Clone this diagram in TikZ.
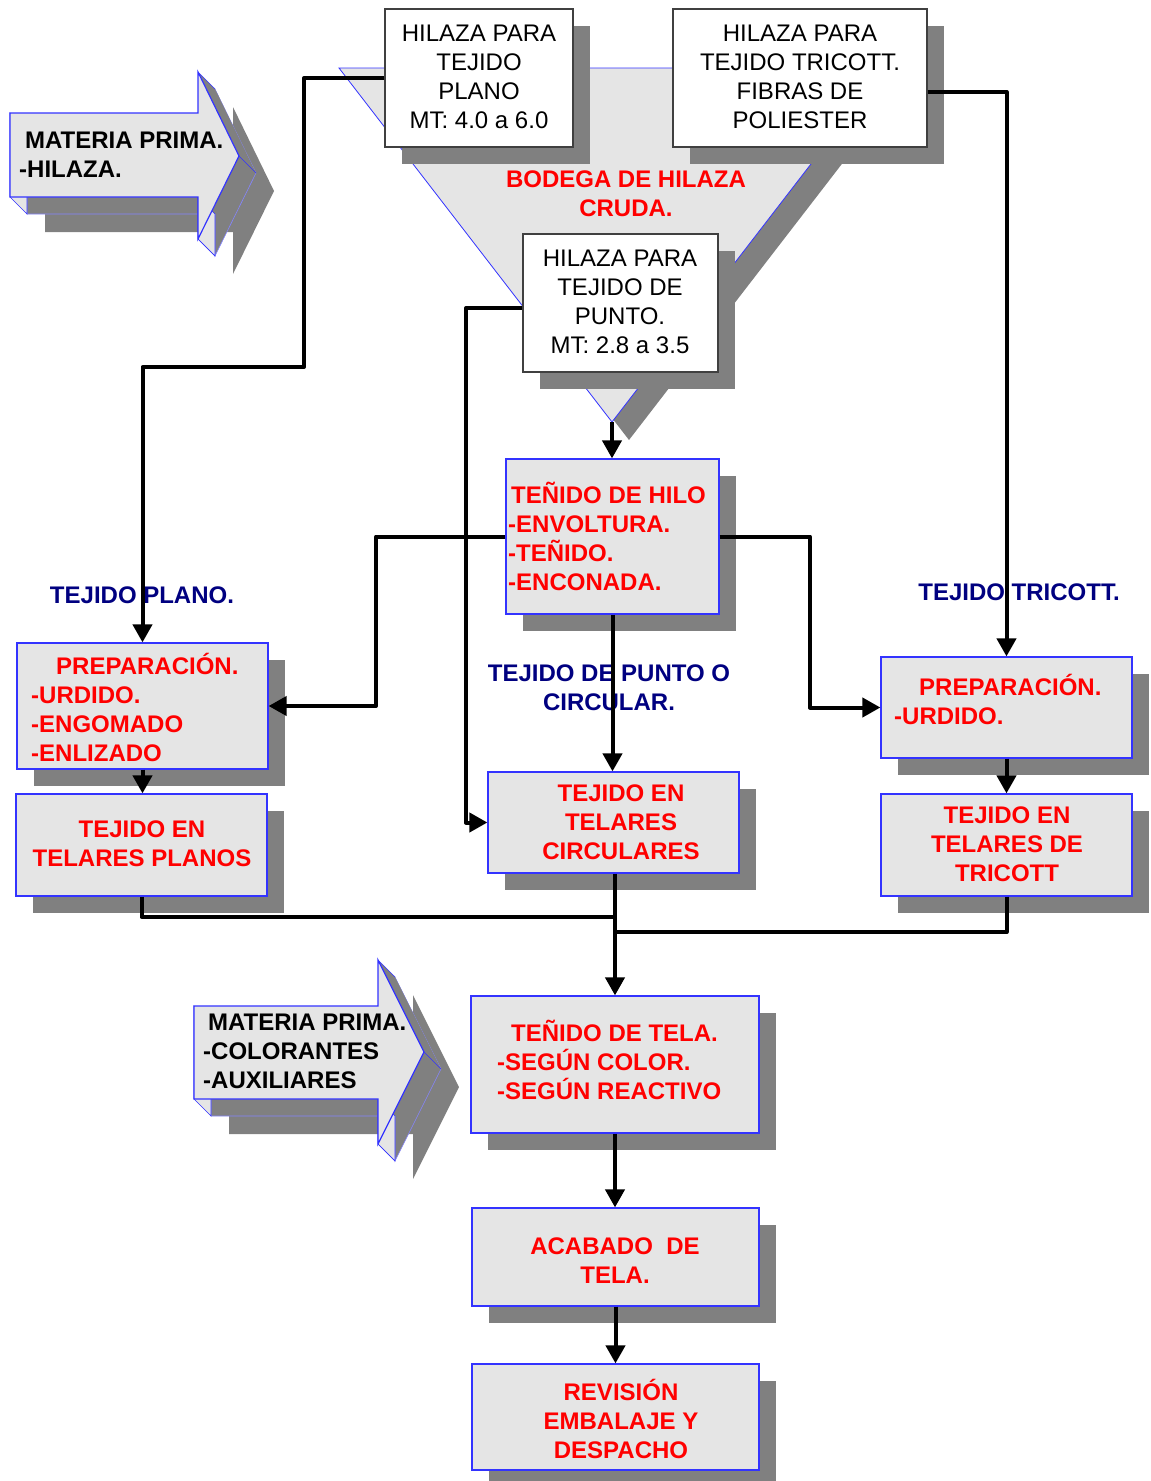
\documentclass[tikz,border=0pt]{standalone}
\usepackage{fontspec}
\setmainfont{Liberation Sans}
\usetikzlibrary{arrows.meta,shadows}

\definecolor{fillgray}{RGB}{229,229,229}
\definecolor{shadegray}{RGB}{128,128,128}
\definecolor{edgeblue}{RGB}{51,51,255}
\definecolor{labelnavy}{RGB}{0,0,128}
\definecolor{redtext}{RGB}{255,0,0}

\newcommand{\bigtxt}{\fontsize{24}{29}\selectfont}
\newcommand{\topstrut}{\rule{0pt}{24pt}}

% 3D block arrow: #1 left x, #2 body top, #3 body bottom, #4 neck x,
% #5 head top, #6 tip x, #7 tip y, #8 head bottom
\newcommand{\blockarrow}[8]{%
  \fill[shadegray, shift={(35,35)}] (#1,#2) -- (#4,#2) -- (#4,#5) -- (#6,#7) -- (#4,#8) -- (#4,#3) -- (#1,#3) -- cycle;
  \filldraw[fill=shadegray, draw=edgeblue!60, line width=0.6pt, shift={(17,17)}] (#1,#2) -- (#4,#2) -- (#4,#5) -- (#6,#7) -- (#4,#8) -- (#4,#3) -- (#1,#3) -- cycle;
  \fill[shadegray] (#4,#5) -- (#6,#7) -- (#6+17,#7+17) -- (#4+17,#5+17) -- cycle;
  \filldraw[fill=fillgray, draw=edgeblue, line width=0.6pt] (#1,#2) -- (#1+17,#2+17) -- (#1+17,#3+17) -- (#1,#3) -- cycle;
  \filldraw[fill=fillgray, draw=edgeblue, line width=0.6pt] (#4,#3) -- (#4+17,#3+17) -- (#4+17,#8+17) -- (#4,#8) -- cycle;
  \draw[edgeblue, line width=0.6pt] (#4,#5) -- (#4+17,#5+17) (#6,#7) -- (#6+17,#7+17) (#4,#8) -- (#4+17,#8+17);
  \filldraw[fill=fillgray, draw=edgeblue, line width=1.2pt, line join=miter] (#1,#2) -- (#4,#2) -- (#4,#5) -- (#6,#7) -- (#4,#8) -- (#4,#3) -- (#1,#3) -- cycle;
}

\tikzset{
  boxshadow/.style={drop shadow={shadow xshift=17pt, shadow yshift=-17pt, fill=shadegray, opacity=1, draw=none}},
  procbox/.style={draw=edgeblue, line width=1.2pt, fill=fillgray, inner sep=0pt, boxshadow},
  stockbox/.style={draw=black!75, line width=1.2pt, fill=white, inner sep=0pt, boxshadow},
  plaintxt/.style={inner sep=0pt, anchor=north, align=center, font=\bigtxt, text=black},
  redtxt/.style={inner sep=0pt, anchor=north, align=center, font=\bigtxt\bfseries, text=redtext},
  navytxt/.style={inner sep=0pt, anchor=north, align=center, font=\bigtxt\bfseries, text=labelnavy},
  inktxt/.style={inner sep=0pt, anchor=north west, align=left, font=\bigtxt\bfseries, text=black},
  conn/.style={line width=4pt, draw=black, line join=round},
  flow/.style={conn, -{Triangle[length=18pt,width=19pt]}},
}

\begin{document}
\begin{tikzpicture}[x=1pt,y=-1pt]
\useasboundingbox (0,0) rectangle (1151,1481);

% raw yarn warehouse (inverted triangle)
\coordinate (bodL) at (339,68);
\coordinate (bodR) at (885,68);
\coordinate (tip) at (612,422);
\fill[shadegray] (356,86) -- (902,86) -- (629,440) -- cycle;
\filldraw[fill=fillgray, draw=edgeblue, line width=0.8pt] (bodL) -- (bodR) -- (tip) -- cycle;
\node[redtxt] (bodega) at (626,163.6) {\topstrut BODEGA DE HILAZA\\CRUDA.};

% incoming raw material arrows
\blockarrow{10}{113}{197}{198}{72}{239}{156}{239}
\node[inktxt] (mp1) at (19,124.6) {\topstrut\hspace*{6pt}MATERIA PRIMA.\\-HILAZA.};
\blockarrow{194}{1006}{1099}{378}{960}{424}{1052}{1144}
\node[inktxt] (mp2) at (203,1006.6) {\topstrut\hspace*{5pt}MATERIA PRIMA.\\-COLORANTES\\-AUXILIARES};

% yarn stock boxes
\node[stockbox, minimum width=188pt, minimum height=138pt] (hpl) at (479,78) {};
\node[stockbox, minimum width=254pt, minimum height=138pt] (htr) at (800,78) {};
\node[stockbox, minimum width=195pt, minimum height=138pt] (hpu) at (620.5,303) {};
\node[plaintxt] (hpl-t) at (479,17.6) {\topstrut HILAZA PARA\\TEJIDO\\PLANO\\MT: 4.0 a 6.0};
\node[plaintxt] (htr-t) at (800,17.6) {\topstrut HILAZA PARA\\TEJIDO TRICOTT.\\FIBRAS DE\\POLIESTER};
\node[plaintxt] (hpu-t) at (620,242.6) {\topstrut HILAZA PARA\\TEJIDO DE\\PUNTO.\\MT: 2.8 a 3.5};

% process boxes
\node[procbox, minimum width=213pt, minimum height=155pt] (thilo) at (612.5,536.5) {};
\node[procbox, minimum width=251pt, minimum height=126pt] (preppl) at (142.5,706) {};
\node[procbox, minimum width=251pt, minimum height=102pt] (tpl) at (141.5,845) {};
\node[procbox, minimum width=251pt, minimum height=101pt] (tcirc) at (613.5,822.5) {};
\node[procbox, minimum width=251pt, minimum height=101pt] (ptr) at (1006.5,707.5) {};
\node[procbox, minimum width=251pt, minimum height=102pt] (ttr) at (1006.5,845) {};
\node[procbox, minimum width=288pt, minimum height=137pt] (ttela) at (615,1064.5) {};
\node[procbox, minimum width=287pt, minimum height=98pt] (acab) at (615.5,1257) {};
\node[procbox, minimum width=287pt, minimum height=106pt] (rev) at (615.5,1417) {};

\node[redtxt, anchor=north west, align=left] (thilo-t) at (508,479.6) {\topstrut\hspace*{3pt}TEÑIDO DE HILO\\-ENVOLTURA.\\-TEÑIDO.\\-ENCONADA.};
\node[redtxt, anchor=north west, align=left] (preppl-t) at (31,650.6) {\topstrut\hspace*{25pt}PREPARACIÓN.\\-URDIDO.\\-ENGOMADO\\-ENLIZADO};
\node[redtxt] (tpl-t) at (142,813.6) {\topstrut TEJIDO EN\\TELARES PLANOS};
\node[redtxt] (tcirc-t) at (621,777.6) {\topstrut TEJIDO EN\\TELARES\\CIRCULARES};
\node[redtxt, anchor=north west, align=left] (ptr-t) at (894,671.6) {\topstrut\hspace*{25pt}PREPARACIÓN.\\-URDIDO.};
\node[redtxt] (ttr-t) at (1007,799.6) {\topstrut TEJIDO EN\\TELARES DE\\TRICOTT};
\node[redtxt, anchor=north west, align=left] (ttela-t) at (497,1017.6) {\topstrut\hspace*{14pt}TEÑIDO DE TELA.\\-SEGÚN COLOR.\\-SEGÚN REACTIVO};
\node[redtxt] (acab-t) at (615,1230.6) {\topstrut ACABADO\ \ DE\\TELA.};
\node[redtxt] (rev-t) at (621,1376.6) {\topstrut REVISIÓN\\EMBALAJE Y\\DESPACHO};

% route labels
\node[navytxt] (lbl-plano) at (142,579.6) {\topstrut TEJIDO PLANO.};
\node[navytxt] (lbl-tricott) at (1019,576.6) {\topstrut TEJIDO TRICOTT.};
\node[navytxt] (lbl-punto) at (609,657.6) {\topstrut TEJIDO DE PUNTO O\\CIRCULAR.};

% flow connectors
\coordinate (junA) at (615,917);
\coordinate (junB) at (615,932);
\draw[flow] (hpl.west) -| (304,367) -| (preppl.north);
\draw[flow] ([yshift=-14pt]htr.east) -| (ptr.north);
\draw[flow] ([yshift=-5pt]hpu.west) -- (466,308) |- (tcirc.west);
\draw[flow] (tip) -- (tip |- thilo.north);
\draw[flow] (thilo.west) -- (376,536.5) |- (preppl.east);
\draw[flow] (thilo.east) -- (810,536.5) |- (ptr.west);
\draw[flow] (thilo.south) -- (thilo.south |- tcirc.north);
\draw[flow] (preppl.south) -- (preppl.south |- tpl.north);
\draw[flow] (ptr.south) -- (ttr.north);
\draw[conn] (tpl.south) |- (junA);
\draw[conn] (ttr.south) |- (junB);
\draw[flow] (ttela.north |- tcirc.south) -- (ttela.north);
\draw[flow] (ttela.south) -- (ttela.south |- acab.north);
\draw[flow] (acab.south) -- (rev.north);
\end{tikzpicture}
\end{document}
